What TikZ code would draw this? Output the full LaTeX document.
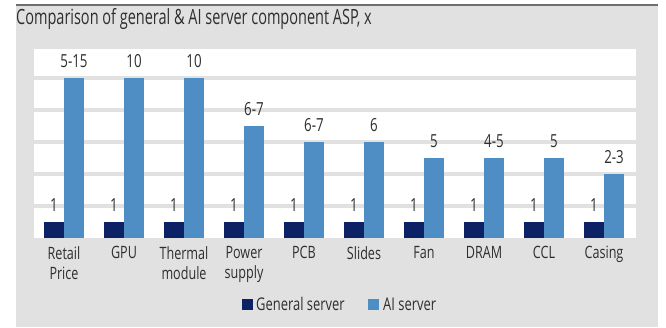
\documentclass[tikz,border=0pt]{standalone}
\usepackage{fontspec}
\setmainfont{Open Sans}[FakeStretch=0.74]
\newfontfamily\titlefont{Open Sans}[FakeStretch=0.69]
\definecolor{panelgrey}{HTML}{E1E1E1}
\definecolor{topline}{HTML}{6E6E6E}
\definecolor{generalblue}{HTML}{0C2265}
\definecolor{aiblue}{HTML}{4F8EC4}
\definecolor{inktext}{HTML}{2E2E2E}
\begin{document}
\begin{tikzpicture}[x=1pt, y=-1pt,
  generalbar/.style={fill=generalblue},
  aibar/.style={fill=aiblue},
  gridline/.style={draw=panelgrey, line width=3.5pt},
  vallabel/.style={anchor=base, inner sep=0pt, text=inktext, font=\fontsize{18}{18}\selectfont},
  catlabel/.style={anchor=north, inner sep=0pt, align=center, text=inktext, font=\fontsize{17}{20}\selectfont},
  keylabel/.style={anchor=base west, inner sep=0pt, text=inktext, font=\fontsize{17.5}{20}\selectfont}]

\useasboundingbox (0,0) rectangle (666,327);
\fill[panelgrey] (16,6) rectangle (658,327);
\draw[topline, line width=2pt] (16,5) -- (658,5);
\node[anchor=base west, inner sep=0pt, text=inktext, font=\titlefont\fontsize{21}{24}\selectfont] (title) at (16,24.5) {Comparison of general \& AI server component ASP, x};

% plot area and grid
\fill[white] (34,49) rectangle (636,238);
\draw[gridline] (34,206) -- (636,206);
\draw[gridline] (34,174) -- (636,174);
\draw[gridline] (34,142) -- (636,142);
\draw[gridline] (34,110) -- (636,110);
\draw[gridline] (34,78) -- (636,78);

% bars
\fill[generalbar] (44,222) rectangle (64,238);  \fill[aibar] (64,78) rectangle (84,238);
\fill[generalbar] (104,222) rectangle (124,238); \fill[aibar] (124,78) rectangle (144,238);
\fill[generalbar] (164,222) rectangle (184,238); \fill[aibar] (184,78) rectangle (204,238);
\fill[generalbar] (224,222) rectangle (244,238); \fill[aibar] (244,126) rectangle (264,238);
\fill[generalbar] (284,222) rectangle (304,238); \fill[aibar] (304,142) rectangle (324,238);
\fill[generalbar] (344,222) rectangle (364,238); \fill[aibar] (364,142) rectangle (384,238);
\fill[generalbar] (404,222) rectangle (424,238); \fill[aibar] (424,158) rectangle (444,238);
\fill[generalbar] (464,222) rectangle (484,238); \fill[aibar] (484,158) rectangle (504,238);
\fill[generalbar] (524,222) rectangle (544,238); \fill[aibar] (544,158) rectangle (564,238);
\fill[generalbar] (584,222) rectangle (604,238); \fill[aibar] (604,174) rectangle (624,238);

% values
\node[vallabel] (gen1) at (54,211) {1};   \node[vallabel] (ai1) at (74,67) {5-15};
\node[vallabel] (gen2) at (114,211) {1};  \node[vallabel] (ai2) at (134,67) {10};
\node[vallabel] (gen3) at (174,211) {1};  \node[vallabel] (ai3) at (194,67) {10};
\node[vallabel] (gen4) at (234,211) {1};  \node[vallabel] (ai4) at (254,115) {6-7};
\node[vallabel] (gen5) at (294,211) {1};  \node[vallabel] (ai5) at (314,131) {6-7};
\node[vallabel] (gen6) at (354,211) {1};  \node[vallabel] (ai6) at (374,131) {6};
\node[vallabel] (gen7) at (414,211) {1};  \node[vallabel] (ai7) at (434,147) {5};
\node[vallabel] (gen8) at (474,211) {1};  \node[vallabel] (ai8) at (494,147) {4-5};
\node[vallabel] (gen9) at (534,211) {1};  \node[vallabel] (ai9) at (554,147) {5};
\node[vallabel] (gen10) at (594,211) {1}; \node[vallabel] (ai10) at (614,163) {2-3};

% categories
\node[catlabel] (retail) at (64,246) {Retail\\Price};
\node[catlabel] (gpu) at (124,246) {GPU};
\node[catlabel] (thermal) at (184,246) {Thermal\\module};
\node[catlabel] (power) at (244,246) {Power\\supply};
\node[catlabel] (pcb) at (304,246) {PCB};
\node[catlabel] (slides) at (364,246) {Slides};
\node[catlabel] (fan) at (424,246) {Fan};
\node[catlabel] (dram) at (484,246) {DRAM};
\node[catlabel] (ccl) at (544,246) {CCL};
\node[catlabel] (casing) at (604,246) {Casing};

% legend
\fill[generalblue] (242,299) rectangle (253,310);
\node[keylabel] (keygeneral) at (256,310) {General server};
\fill[aiblue] (368,299) rectangle (379,310);
\node[keylabel] (keyai) at (383,310) {AI server};
\end{tikzpicture}
\end{document}
